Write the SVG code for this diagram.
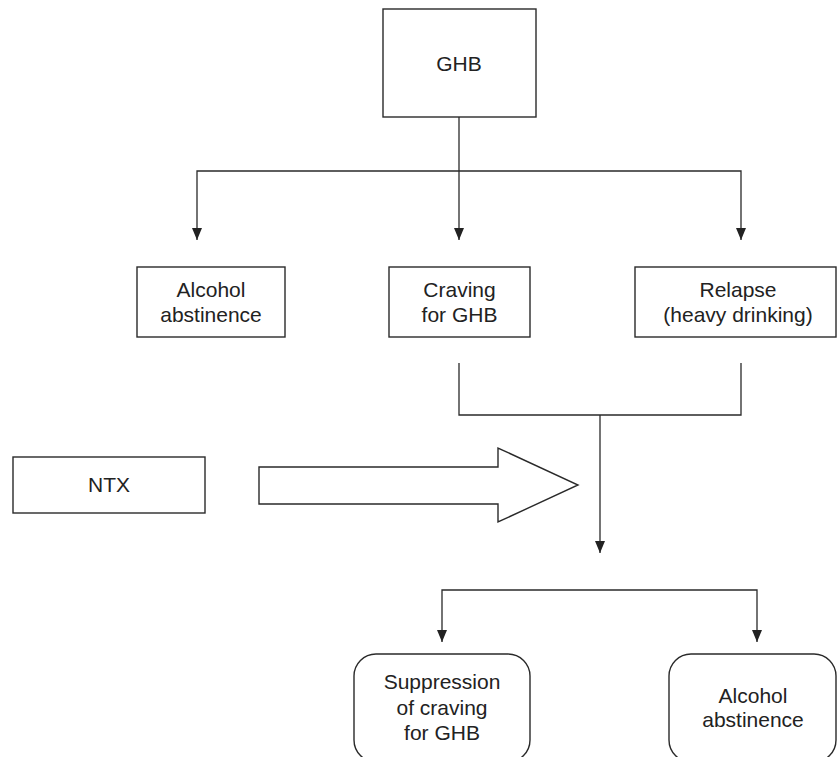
<svg xmlns="http://www.w3.org/2000/svg" width="838" height="757" viewBox="0 0 838 757">
<style>
.box{fill:#fff;stroke:#2a2a2a;stroke-width:1.4}
.ln{fill:none;stroke:#2a2a2a;stroke-width:1.3}
text{font-family:"Liberation Sans",Arial,sans-serif;font-size:21px;fill:#222;text-anchor:middle}
</style>
<defs>
<marker id="ah" viewBox="0 0 12 10" refX="12" refY="5" markerWidth="12" markerHeight="10" markerUnits="userSpaceOnUse" orient="auto">
<path d="M0,0 L12,5 L0,10 z" fill="#222"/>
</marker>
</defs>
<rect width="838" height="757" fill="#fff"/>
<g id="connectors">
<path class="ln" d="M459,117 V240" marker-end="url(#ah)"/>
<path class="ln" d="M459,171 H197 V240" marker-end="url(#ah)"/>
<path class="ln" d="M459,171 H741 V240" marker-end="url(#ah)"/>
<path class="ln" d="M459,363 V415 H741 V363"/>
<path class="ln" d="M600,415 V553" marker-end="url(#ah)"/>
<path class="ln" d="M600,590 H442 V642" marker-end="url(#ah)"/>
<path class="ln" d="M600,590 H757 V642" marker-end="url(#ah)"/>
<polygon id="ntx-arrow" class="box" points="259,467 498,467 498,448 578,485 498,522 498,504 259,504"/>
</g>
<g id="ghb"><rect class="box" x="383" y="9" width="153" height="108"/><text x="459" y="71">GHB</text></g>
<g id="alcohol-abstinence-1"><rect class="box" x="137" y="267" width="148" height="70"/><text x="211" y="297">Alcohol</text><text x="211" y="322">abstinence</text></g>
<g id="craving"><rect class="box" x="389" y="267" width="141" height="70"/><text x="459.5" y="297">Craving</text><text x="459.5" y="322">for GHB</text></g>
<g id="relapse"><rect class="box" x="635" y="267" width="201" height="70"/><text x="738" y="297">Relapse</text><text x="738" y="322">(heavy drinking)</text></g>
<g id="ntx"><rect class="box" x="13" y="457" width="192" height="56"/><text x="109" y="492">NTX</text></g>
<g id="suppression"><rect class="box" x="354" y="654" width="176" height="108" rx="22"/><text x="442" y="689">Suppression</text><text x="442" y="715">of craving</text><text x="442" y="740">for GHB</text></g>
<g id="alcohol-abstinence-2"><rect class="box" x="669" y="654" width="167" height="108" rx="22"/><text x="753" y="703">Alcohol</text><text x="753" y="727">abstinence</text></g>
</svg>
